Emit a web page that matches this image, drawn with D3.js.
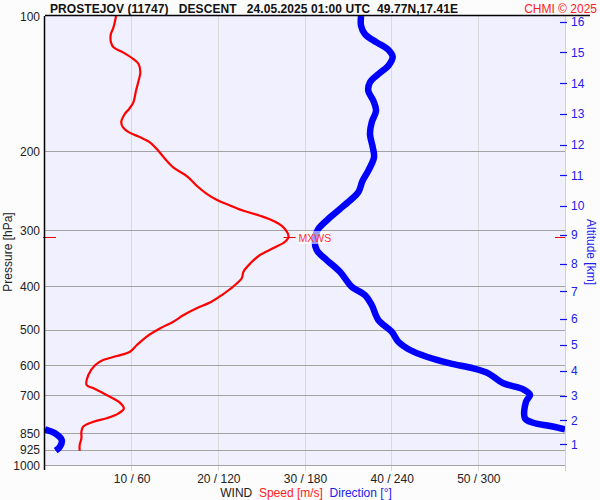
<!DOCTYPE html>
<html><head><meta charset="utf-8">
<script src="https://cdn.jsdelivr.net/npm/d3@7"></script>
<style>
html,body{margin:0;padding:0;background:#fcfcfc;}
svg{display:block;font-family:"Liberation Sans",Arial,sans-serif;}
</style></head>
<body>
<svg id="c" width="600" height="500"></svg>
<script>
// ---- data ----
const pressureTicks = [100,200,300,400,500,600,700,850,925,1000];
const speedTicks = [10,20,30,40,50];
const dirTicks = [60,120,180,240,300];
const altTicks = [1,2,3,4,5,6,7,8,9,10,11,12,13,14,15,16];

const speedP = [100,106,109.7,114.3,117.4,120.5,124.7,127.9,133.5,139.4,146.7,155.7,161.1,165.3,172.5,177,181.6,186.3,191.1,197.8,206.4,217.3,227.5,238.8,249.2,256.5,264.5,271.4,278.5,285.7,295.5,310.1,318.2,329.2,340.7,355.5,371.1,383.9,400.8,418.3,432.9,447.7,463.4,479.5,496,518.1,540.6,559.6,571.9,583.8,599,630.3,663.4,674.8,698.3,722.8,747.7,767.2,787.1,801,821.7,843,872,902.6,929.3];
const speedV = [8.2,7.9,7.6,7.6,7.9,9.0,10.2,10.8,11.0,10.8,10.5,10.2,9.7,9.2,8.8,9.0,9.7,11.0,12.1,12.9,13.7,14.8,16.4,17.5,18.7,19.8,21.4,22.9,24.8,26.3,27.5,28.1,27.7,26.3,24.8,23.7,22.9,22.7,21.7,20.4,19.2,17.5,16.0,14.8,13.3,11.7,10.6,9.8,8.3,6.7,5.8,5.0,4.8,5.6,7.1,8.5,9.1,8.5,7.1,5.6,4.4,4.2,4.2,4.0,4.0];

const dirP = [100,105.1,109.7,114.5,118.4,123.2,129,134.7,140.5,146.7,154.4,162.5,172.4,183.1,196.1,206.4,221.1,232.7,247,255.6,269.1,283.2,298.1,311.1,332.1,349.5,371.1,400.8,418.3,440.3,475.4,504.8,531.4,554.5,573.9,593.8,609.2,624.9,657.7,678.2,698.3,722.8,787.1,805,818.7,832.6,832.6,849.9,880,910.3,929.3];
const dirV = [218.8,218.8,221.5,229.6,237.0,240.7,237.7,230.8,225.0,223.8,227.3,229.2,226.2,225.0,226.9,227.8,223.8,219.9,216.9,212.3,204.2,196.1,189.2,186.9,188.1,195.0,204.2,212.3,221.5,226.2,230.8,240.0,244.6,252.7,264.2,280.4,296.5,306.9,317.3,331.1,335.8,333.0,332.3,338.0,349.6,360,0,6.9,11.6,10.4,7.4];

const maxWind = {p:310.1, v:28.1, label:"MXWS"};

const title = "PROSTEJOV (11747)   DESCENT   24.05.2025 01:00 UTC  49.77N,17.41E";
const credit = "CHMI © 2025";

// ---- layout ----
const L=45, R=565, T=16, B=465;
const svg = d3.select("#c");
const y = d3.scaleLog().domain([100,1000]).range([T,B]);
const xs = d3.scaleLinear().domain([0,60]).range([L,R]);
const xd = d3.scaleLinear().domain([0,360]).range([L,R]);

// ISA standard atmosphere: altitude km -> pressure hPa
function isaP(km){
  const h = km*1000;
  if(h<=11000) return 1013.25*Math.pow(1-2.25577e-5*h,5.25588);
  return 226.32*Math.exp(-(h-11000)/6341.6);
}

svg.append("rect").attr("x",L).attr("y",T).attr("width",R-L).attr("height",B-T).attr("fill","#f0f0ff");

// vertical grid
svg.append("g").selectAll("line").data(speedTicks).join("line")
  .attr("x1",d=>xs(d)).attr("x2",d=>xs(d)).attr("y1",T).attr("y2",471)
  .attr("stroke","#d9d9d9").attr("stroke-width",1).attr("shape-rendering","crispEdges");
svg.append("line").attr("x1",R).attr("x2",R).attr("y1",T).attr("y2",471)
  .attr("stroke","#d0d0d0").attr("shape-rendering","crispEdges");

// horizontal grid
svg.append("g").selectAll("line").data(pressureTicks.filter(d=>d>100)).join("line")
  .attr("x1",L).attr("x2",R).attr("y1",d=>Math.round(y(d))+0.5).attr("y2",d=>Math.round(y(d))+0.5)
  .attr("stroke","#a3a3a3").attr("stroke-width",1);

// clip
svg.append("clipPath").attr("id","pc").append("rect").attr("x",L).attr("y",T-4).attr("width",R-L).attr("height",B-T+8);

// direction line, split at wrap
const dirPts = dirP.map((p,i)=>({p, v:dirV[i]}));
const segs=[]; let cur=[];
dirPts.forEach((d,i)=>{
  if(i>0 && Math.abs(d.v-dirPts[i-1].v)>180){ segs.push(cur); cur=[]; }
  cur.push(d);
});
segs.push(cur);
const dline = d3.line().x(d=>xd(d.v)).y(d=>y(d.p)).curve(d3.curveCatmullRom);
const gl = svg.append("g").attr("clip-path","url(#pc)");
gl.selectAll("path.dir").data(segs).join("path").attr("class","dir")
  .attr("d",dline).attr("fill","none").attr("stroke","#0000ff").attr("stroke-width",6.5)
  .attr("stroke-linejoin","round");

// speed line
const spPts = speedP.map((p,i)=>({p, v:speedV[i]}));
const sline = d3.line().x(d=>xs(d.v)).y(d=>y(d.p)).curve(d3.curveCatmullRom);
gl.append("path").attr("d",sline(spPts)).attr("fill","none").attr("stroke","#ff0000").attr("stroke-width",2.2)
  .attr("stroke-linejoin","round");

// max wind marks
const my = Math.round(y(maxWind.p))+0.5;
svg.append("line").attr("x1",43).attr("x2",56).attr("y1",my).attr("y2",my).attr("stroke","#ee0000");
svg.append("line").attr("x1",555).attr("x2",565).attr("y1",my).attr("y2",my).attr("stroke","#ee0000");
svg.append("line").attr("x1",xs(maxWind.v)-5).attr("x2",xs(maxWind.v)+7).attr("y1",my).attr("y2",my).attr("stroke","#ee0000");
svg.append("rect").attr("x",xs(maxWind.v)+9).attr("y",my-6.5).attr("width",32).attr("height",13)
  .attr("fill","#ffffff").attr("opacity",0.6);
svg.append("text").attr("x",xs(maxWind.v)+10).attr("y",my+4).attr("font-size",10.5).attr("fill","#ff3030")
  .text(maxWind.label);

// frame
svg.append("line").attr("x1",L).attr("x2",590).attr("y1",T-0.5).attr("y2",T-0.5).attr("stroke","#000").attr("stroke-width",1.5);
svg.append("line").attr("x1",L-0.5).attr("x2",L-0.5).attr("y1",T).attr("y2",470).attr("stroke","#000").attr("stroke-width",1.5);

// left pressure labels
svg.append("g").selectAll("text").data(pressureTicks).join("text")
  .attr("x",40).attr("y",d=>y(d)+4.5).attr("text-anchor","end").attr("font-size",12).attr("fill","#222")
  .text(d=>d);

// bottom axis labels
const xAxis = d3.axisBottom(xs).tickValues(speedTicks).tickSize(0).tickPadding(0)
  .tickFormat((d,i)=>`${d} / ${dirTicks[i]}`);
const ga = svg.append("g").attr("transform",`translate(0,${474})`).call(xAxis);
ga.select(".domain").remove();
ga.selectAll("text").attr("font-size",12).attr("fill","#222").attr("font-family","Liberation Sans, Arial, sans-serif").attr("dy","0.71em");

// right altitude axis
const ag = svg.append("g");
ag.selectAll("line").data(altTicks).join("line")
  .attr("x1",560).attr("x2",567).attr("y1",d=>Math.round(y(isaP(d)))+0.5).attr("y2",d=>Math.round(y(isaP(d)))+0.5)
  .attr("stroke","#1010ee").attr("stroke-width",1.2);
ag.selectAll("text").data(altTicks).join("text")
  .attr("x",571).attr("y",d=>y(isaP(d))+4.5).attr("font-size",12).attr("fill","#2020ee").text(d=>d);

// axis titles
svg.append("text").attr("transform","translate(12,252) rotate(-90)").attr("text-anchor","middle")
  .attr("font-size",12).attr("fill","#222").text("Pressure [hPa]");
svg.append("text").attr("transform","translate(587,252) rotate(90)").attr("text-anchor","middle")
  .attr("font-size",12).attr("fill","#2020ee").text("Altitude [km]");

const bt = svg.append("text").attr("x",306).attr("y",497).attr("text-anchor","middle").attr("font-size",12);
bt.append("tspan").attr("fill","#222").text("WIND  ");
bt.append("tspan").attr("fill","#ff2020").text("Speed [m/s]  ");
bt.append("tspan").attr("fill","#2020ee").text("Direction [°]");
bt.attr("xml:space","preserve").style("white-space","pre");

// title
svg.append("text").attr("x",50).attr("y",13).attr("font-size",12).attr("font-weight","bold").attr("fill","#111")
  .style("white-space","pre").attr("textLength",408).attr("lengthAdjust","spacing").text(title);
svg.append("text").attr("x",597).attr("y",13).attr("text-anchor","end").attr("font-size",12).attr("fill","#ff2020")
  .text(credit);
</script>
</body></html>
